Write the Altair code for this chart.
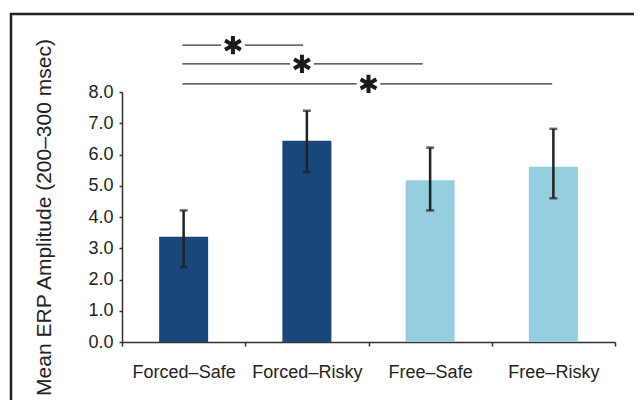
import math
import altair as alt
import pandas as pd

# ---- data ----
categories = ["Forced–Safe", "Forced–Risky", "Free–Safe", "Free–Risky"]
groups = ["Forced", "Forced", "Free", "Free"]
means = [3.37, 6.44, 5.18, 5.61]
err_lo = [2.39, 5.44, 4.21, 4.60]
err_hi = [4.21, 7.40, 6.22, 6.82]

# significance brackets (x in category-index units, y in axis units)
sig_start = [0.49, 0.49, 0.49]
sig_end = [1.47, 2.44, 3.49]
sig_star = [0.90, 1.46, 2.00]
sig_y = [9.50, 8.90, 8.26]

df = pd.DataFrame({"cat": categories, "group": groups, "mean": means,
                   "lo": err_lo, "hi": err_hi})
sig = pd.DataFrame({"x1": sig_start, "x2": sig_end, "xs": sig_star, "y": sig_y})

W, H = 493, 250
FONT = "Liberation Sans"

# asterisk path: three bars rotated 0, 60, 120 degrees
def bar(theta, hw=0.22):
    pts = [(-hw, -1), (hw, -1), (hw, 1), (-hw, 1)]
    c, s = math.cos(theta), math.sin(theta)
    r = [(x * c - y * s, x * s + y * c) for x, y in pts]
    return "M" + "L".join(f"{x:.3f},{y:.3f}" for x, y in r) + "Z"

star_path = "".join(bar(math.radians(a)) for a in (0, 60, 120))

yaxis = alt.Axis(title="Mean ERP Amplitude (200–300 msec)",
                 values=[0, 1, 2, 3, 4, 5, 6, 7, 8], format=".1f",
                 labelOverlap=False,
                 tickSize=3, labelPadding=6, labelFontSize=18,
                 labelFont=FONT, labelColor="#222",
                 titleFont=FONT, titleFontSize=21, titleFontWeight="normal",
                 titleColor="#222", titleX=-68, titleY=125,
                 titleAngle=270, titleAlign="center", titleBaseline="bottom")
yscale = alt.Scale(domain=[0, 8])

xband = alt.X("cat:N", sort=categories,
              scale=alt.Scale(paddingInner=0, paddingOuter=0),
              axis=alt.Axis(title=None, tickBand="extent", labelAngle=0,
                            tickSize=4, labelPadding=17, labelFontSize=18,
                            labelFont=FONT, labelColor="#222"))

base = alt.Chart(df)
bars = base.mark_bar(width=49).encode(
    x=xband, y=alt.Y("mean:Q", scale=yscale, axis=yaxis),
    color=alt.Color("group:N",
                    scale=alt.Scale(domain=["Forced", "Free"],
                                    range=["#17477b", "#94cedf"]),
                    legend=None))
rules = base.mark_rule(color="#222", strokeWidth=2.5).encode(
    x=alt.X("cat:N", sort=categories), y=alt.Y("lo:Q", axis=yaxis), y2="hi:Q")
caps_lo = base.mark_tick(color="#222", thickness=2.5, size=8, orient="horizontal").encode(
    x=alt.X("cat:N", sort=categories), y=alt.Y("lo:Q", axis=yaxis))
caps_hi = base.mark_tick(color="#222", thickness=2.5, size=8, orient="horizontal").encode(
    x=alt.X("cat:N", sort=categories), y=alt.Y("hi:Q", axis=yaxis))

xs_q = alt.Scale(domain=[0, 4])
sb = alt.Chart(sig)
sig_lines = sb.mark_rule(color="#333", strokeWidth=1.3, clip=False).encode(
    x=alt.X("x1:Q", scale=xs_q, axis=None), x2="x2:Q",
    y=alt.Y("y:Q", axis=yaxis))
sig_gap = sb.mark_point(shape="square", filled=True, color="white", opacity=1,
                        size=560, clip=False).encode(
    x=alt.X("xs:Q", scale=xs_q, axis=None),
    y=alt.Y("y:Q", axis=yaxis))
sig_stars = sb.mark_point(shape=star_path, filled=True, color="#1a1a1a", opacity=1,
                          size=330, clip=False).encode(
    x=alt.X("xs:Q", scale=xs_q, axis=None),
    y=alt.Y("y:Q", axis=yaxis))

one = pd.DataFrame({"a": [0]})
frame_top = alt.Chart(one).mark_rule(color="#222", strokeWidth=2.5, clip=False).encode(
    x=alt.value(-112), x2=alt.value(W + 200), y=alt.value(-78))
frame_left = alt.Chart(one).mark_rule(color="#222", strokeWidth=2.5, clip=False).encode(
    x=alt.value(-111), y=alt.value(-79), y2=alt.value(H + 200))

main = alt.layer(bars, rules, caps_lo, caps_hi)
sig_layer = alt.layer(sig_lines, sig_gap, sig_stars)

chart = alt.layer(frame_top, frame_left, main, sig_layer).resolve_scale(
    x="independent").properties(
    width=W, height=H,
    autosize=alt.AutoSizeParams(type="none"),
    padding={"left": 114, "top": 84, "right": 19, "bottom": 58},
).configure_view(stroke=None).configure_axis(
    grid=False, domainColor="#333", domainWidth=1.5, tickColor="#333", tickWidth=1.5
)

chart.save("out.html", embed_options={"renderer": "svg", "actions": False})
